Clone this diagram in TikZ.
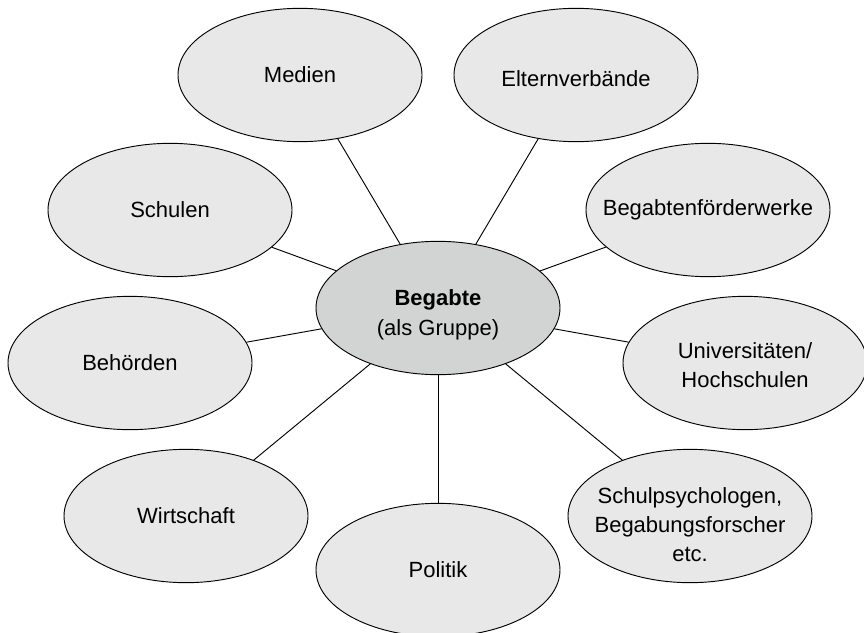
\documentclass[tikz,border=0pt]{standalone}
\usepackage{fontspec}
\setmainfont{Liberation Sans}
\usetikzlibrary{shapes.geometric}
\definecolor{satfill}{HTML}{E8E8E8}
\definecolor{corefill}{HTML}{D2D3D3}
% Text im Oval etwas tiefer setzen
\newcommand\lowtext[2]{\raisebox{-#1}[\height][\depth]{\begin{tabular}{@{}c@{}}#2\end{tabular}}}
\begin{document}
\begin{tikzpicture}[x=0.75pt,y=-0.75pt,
	sat/.style={ellipse,draw,line width=0.7pt,fill=satfill,minimum width=183pt,minimum height=100pt,
	inner xsep=-15pt,inner ysep=0pt,align=center,font=\fontsize{16.5}{21.75}\selectfont},
	core/.style={sat,fill=corefill},
	link/.style={line width=0.7pt}]
	\useasboundingbox (0,0) rectangle (864,632);
	% Gruppe in der Mitte
	\node(gr) [core] at (438,308) {\lowtext{5pt}{\textbf{Begabte}\\[1pt](als Gruppe)}};
	% Partner ringsum
	\node(me) [sat] at (300,75) {Medien};
	\node(el) [sat] at (576,75) {\lowtext{4.5pt}{Elternverbände}};
	\node(sc) [sat] at (170,210) {Schulen};
	\node(bf) [sat] at (708,210) {Begabtenförderwerke};
	\node(be) [sat] at (130,363) {Behörden};
	\node(un) [sat] at (745,363) {\lowtext{3pt}{Universitäten/\\Hochschulen}};
	\node(wi) [sat] at (186,516) {Wirtschaft};
	\node(po) [sat] at (438,570) {Politik};
	\node(ps) [sat] at (690,516) {\lowtext{8pt}{Schulpsychologen,\\Begabungsforscher\\etc.}};
	\foreach \n in {me,el,sc,bf,be,un,wi,po,ps}
		\draw [link] (gr) -- (\n);
\end{tikzpicture}
\end{document}
